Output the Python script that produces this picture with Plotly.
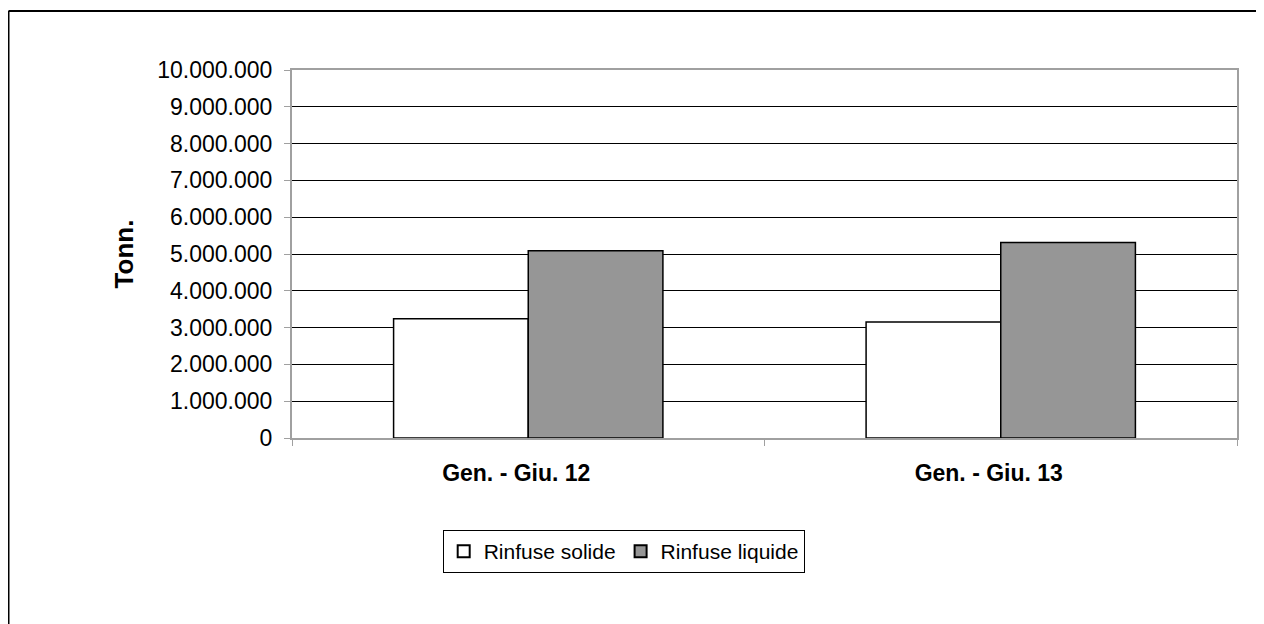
import plotly.graph_objects as go

categories = ["Gen. - Giu. 12", "Gen. - Giu. 13"]
solide = [3240000, 3150000]
liquide = [5090000, 5310000]
series_names = ["Rinfuse solide", "Rinfuse liquide"]
y_ticks = [0, 1000000, 2000000, 3000000, 4000000, 5000000, 6000000, 7000000, 8000000, 9000000, 10000000]

FONT = "Liberation Sans, Arial, sans-serif"

fig = go.Figure()
fig.add_trace(go.Bar(x=categories, y=solide, name=series_names[0],
                     marker=dict(color="white", line=dict(color="black", width=1.5))))
fig.add_trace(go.Bar(x=categories, y=liquide, name=series_names[1],
                     marker=dict(color="#969696", line=dict(color="black", width=1.5))))

# page body has an 8px margin; size figure to compensate
W, H = 1256, 616
L, R, T, B = 284, 27, 62, 186
pw, ph = W - L - R, H - T - B
ox = (0.5 - L) / pw
oy = (H - B - 3) / ph

fig.update_layout(
    width=W, height=H,
    margin=dict(l=L, r=R, t=T, b=B),
    paper_bgcolor="white", plot_bgcolor="white",
    separators=",.",
    barmode="group", bargap=0.43, bargroupgap=0,
    font=dict(family=FONT, size=21, color="black"),
    showlegend=True,
    legend=dict(orientation="h", x=0.351, xanchor="center", y=-0.25, yanchor="top",
                bordercolor="black", borderwidth=1, font=dict(size=21),
                itemsizing="constant", traceorder="normal", tracegroupgap=0),
    xaxis=dict(showline=True, linecolor="#a0a0a0", linewidth=2, mirror=True,
               ticks="outside", tickson="boundaries", ticklen=6, tickcolor="#a0a0a0",
               tickfont=dict(family=FONT, size=23, weight="bold"),
               ticklabelstandoff=13, ticklabelshift=-12, showgrid=False),
    yaxis=dict(range=[0, 10000000], tickvals=y_ticks, tickformat=",d",
               showline=True, linecolor="#a0a0a0", linewidth=2, mirror=True,
               ticks="outside", ticklen=6, tickcolor="#a0a0a0",
               showgrid=True, gridcolor="black", gridwidth=1.2,
               zeroline=False, tickfont=dict(size=23), ticklabelstandoff=7,
               title=dict(text="Tonn.", font=dict(size=26, weight="bold"), standoff=16)),
    shapes=[
        dict(type="line", xref="paper", yref="paper", x0=ox, x1=2, y0=oy, y1=oy,
             line=dict(color="black", width=2)),
        dict(type="line", xref="paper", yref="paper", x0=ox, x1=ox, y0=oy, y1=-2,
             line=dict(color="black", width=2)),
    ],
)

fig.write_html("out.html")
